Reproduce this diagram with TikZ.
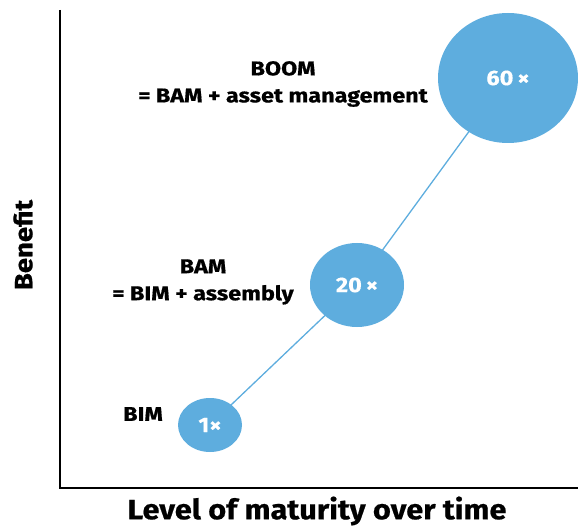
\documentclass[tikz,border=0pt]{standalone}
\usepackage{fontspec}
\setmainfont{Fira Sans}
\newfontfamily\lblfont[FakeStretch=1.17, BoldFeatures={FakeBold=0.6}]{Fira Sans}
\newfontfamily\axfont[FakeStretch=1.1, BoldFeatures={FakeBold=0.6}]{Fira Sans}
\newfontfamily\numfont[FakeStretch=1.12, BoldFeatures={FakeBold=0.6}]{Fira Sans}
\begin{document}
\begin{tikzpicture}[x=1pt,y=-1pt,
  num/.style={text=white, inner sep=0pt, font=\numfont\bfseries\fontsize{21}{22}\selectfont},
  lbl/.style={align=center, font=\lblfont\bfseries\fontsize{20}{27}\selectfont, inner sep=0pt},
  axis/.style={line width=1.6pt, black},
  link/.style={line width=1.3pt, bubbleblue}]
\definecolor{bubbleblue}{RGB}{94,173,222}
\useasboundingbox (0,0) rectangle (578,529);
\coordinate (otop) at (60,10);
\coordinate (origin) at (60,488);
\coordinate (xend) at (578,488);
\draw[axis] (otop) -- (origin) -- (xend);
% connectors
\coordinate (c1) at (210,425);
\coordinate (c2) at (357,285);
\coordinate (c3) at (508,78);
\draw[link] (c1) -- (c2) -- (c3);
\fill[bubbleblue] (c1) ellipse [x radius=32, y radius=27];
\fill[bubbleblue] (c2) ellipse [x radius=47, y radius=42];
\fill[bubbleblue] (c3) ellipse [x radius=70, y radius=65];
\newcommand{\tms}{{\fontsize{21}{21}\selectfont ×}}
\node[num] (n1) at (c1) {1\kern0pt\tms};
\node[num] (n2) at (c2) {20\kern4pt\tms};
\node[num] (n3) at (c3) {60\kern4pt\tms};
\node[lbl] (boom) at (283,84) {BOOM\\= BAM + asset management};
\node[lbl] (bam) at (203,282) {BAM\\= BIM + assembly};
\node[lbl] (bim) at (143,414) {BIM};
\node[font=\axfont\bfseries\fontsize{25}{26}\selectfont, rotate=90] (ylab) at (23,245) {Benefit};
\node[font=\axfont\bfseries\fontsize{28}{30}\selectfont] (xlab) at (317,511) {Level of maturity over time};
\end{tikzpicture}
\end{document}
